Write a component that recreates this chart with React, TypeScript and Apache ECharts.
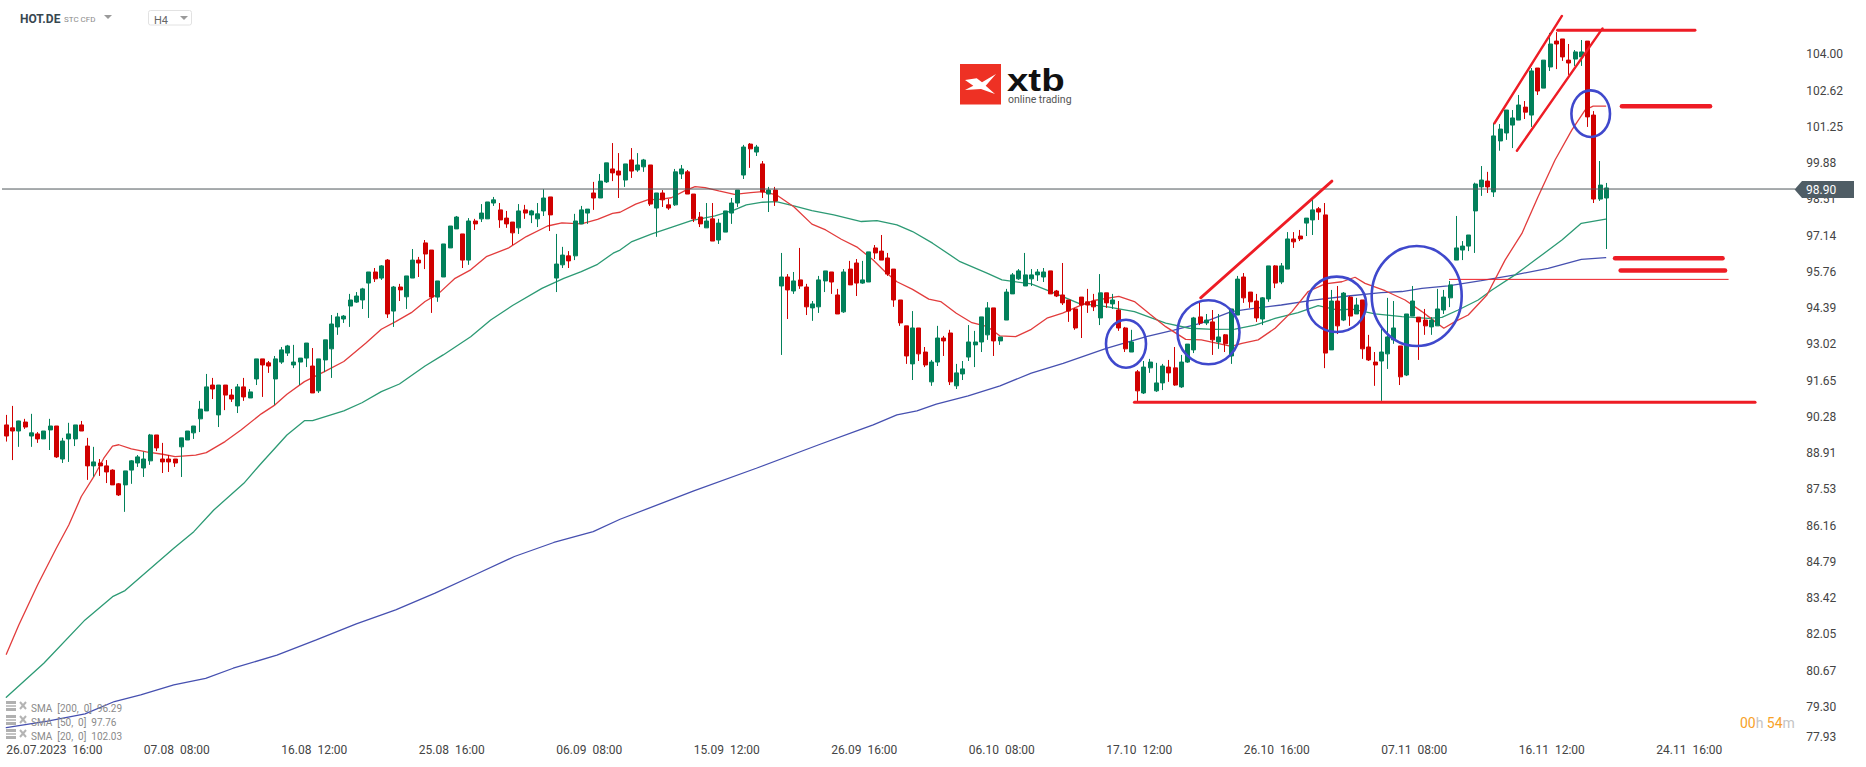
import React, { useEffect, useRef } from "react";
import * as echarts from "echarts";

// [open, close, low, high]
const candlesJulyAug = [
[89.97,89.55,89.34,90.35],[89.86,89.74,88.64,90.69],[89.74,90.12,89.14,90.13],[90.08,89.89,89.82,90.20],[89.55,89.67,89.14,90.39],[89.63,89.44,89.29,89.70],[89.44,89.74,89.44,89.74],[89.78,89.93,89.02,90.20],[89.93,88.76,88.72,89.93],[88.68,89.36,88.53,89.48],[89.44,89.63,88.57,90.05],[89.44,89.97,89.17,89.97],[89.97,89.74,89.74,90.12],[89.17,88.42,87.89,89.48],[88.42,88.57,88.01,89.14],[88.53,88.42,88.04,88.68],[88.42,88.19,87.77,88.64],[88.26,87.70,87.70,88.29],[87.74,87.32,87.28,87.77],[87.70,88.23,86.68,88.23],[88.26,88.61,87.74,88.64],[88.53,88.76,88.38,88.83],[88.34,88.68,88.00,88.95],[88.61,89.59,88.46,89.63],[89.59,89.10,88.98,89.59],[88.68,88.57,88.15,89.29],[88.68,88.57,88.19,88.83],[88.68,88.53,88.38,88.68],[89.14,89.48,88.00,89.48],[89.40,89.74,89.40,89.74],[89.67,89.93,89.44,89.93],[90.20,90.57,89.70,90.88],
];
const candlesAug = [
[90.50,91.41,90.50,91.90],[91.48,91.33,90.95,91.75],[90.35,91.48,89.89,91.48],[91.48,91.10,90.53,91.48],[91.10,90.95,90.84,91.33],[90.69,91.41,90.42,91.52],[91.41,91.03,90.88,91.75],[90.99,91.22,90.99,91.33],[91.71,92.47,91.48,92.47],[92.47,92.24,91.03,92.47],[92.32,92.20,91.94,92.39],[91.71,92.47,90.73,92.58],[92.35,92.81,92.28,92.92],[92.69,92.96,92.58,93.00],[92.24,92.35,92.12,93.00],[92.35,92.50,91.48,92.50],[92.50,93.07,92.16,93.07],[92.20,91.18,91.18,92.88],[91.26,92.47,91.18,92.47],[92.43,93.19,91.97,93.19],[92.85,93.79,91.75,94.13],[93.68,94.06,93.38,94.21],[93.98,94.09,93.83,94.13],[94.47,94.70,93.68,94.93],[94.62,94.85,94.59,95.00],[94.70,95.12,94.36,95.16],[95.34,95.76,94.02,95.76],[95.76,95.50,95.38,95.91],[95.53,95.99,95.46,96.02],[96.21,94.17,94.02,96.25],[94.28,95.19,93.68,95.23],[95.19,95.08,94.66,95.31],
];
const candlesAugSep = [
[94.82,95.61,94.36,95.61],[95.53,96.21,95.53,96.63],[96.21,96.10,95.57,96.33],[96.86,96.44,95.87,96.97],[96.59,94.81,94.21,96.59],[94.81,95.42,94.63,95.42],[95.57,96.82,95.57,96.82],[96.67,97.50,96.67,97.50],[97.39,97.84,97.39,97.88],[97.20,96.21,95.91,97.20],[96.21,97.69,96.03,97.80],[97.69,97.58,97.35,97.77],[97.77,97.99,97.65,98.33],[97.77,98.41,97.77,98.41],[98.37,98.49,98.26,98.60],[98.11,97.73,97.43,98.37],[97.80,97.58,97.43,98.07],[97.65,97.24,96.78,97.65],[97.43,98.07,97.20,98.33],[98.11,97.99,97.77,98.30],[97.92,98.07,97.61,98.11],[97.77,97.96,97.46,98.37],[98.07,98.56,97.88,98.89],[98.60,97.92,97.31,98.60],[95.53,96.06,95.00,97.20],[96.03,96.40,95.91,96.71],[96.37,96.18,95.91,96.55],[96.37,97.69,96.21,97.96],[97.58,98.11,97.58,98.26],[97.99,98.14,97.58,98.14],[98.75,98.56,98.11,99.17],[98.56,99.20,98.56,99.47],
];
const candlesSep = [
[99.17,99.89,99.13,99.89],[99.66,99.51,99.20,100.64],[99.58,99.43,98.56,100.26],[99.24,99.85,98.98,99.85],[100.00,99.58,99.32,100.45],[99.62,99.81,99.55,100.26],[99.74,100.00,99.55,100.04],[99.81,98.33,98.26,99.81],[98.18,98.75,97.09,98.75],[98.75,98.49,98.22,98.86],[98.30,98.18,98.11,98.52],[98.30,99.55,98.26,99.66],[99.47,99.66,99.28,99.81],[99.55,98.71,98.71,99.62],[98.71,97.77,97.65,98.71],[97.84,97.58,97.46,98.03],[97.43,97.69,97.43,98.37],[97.77,96.93,96.93,98.37],[96.97,97.61,96.82,97.77],[97.27,98.07,97.27,98.07],[97.99,98.37,97.58,98.56],[98.37,98.86,98.22,98.86],[99.43,100.49,99.28,100.57],[100.60,100.42,99.70,100.64],[100.30,100.49,100.15,100.57],[99.85,98.79,98.56,99.96],[98.71,98.86,98.03,98.98],[98.86,98.45,98.26,98.98],[95.23,95.57,92.62,96.48],[95.57,95.08,93.98,95.68],[95.04,95.42,94.93,95.76],[95.46,95.23,95.12,96.67],[95.19,94.44,94.13,95.31],
];
const candlesSepOct = [
[94.40,94.55,93.91,94.66],[94.44,95.46,94.21,95.61],[95.42,95.80,95.00,95.80],[95.76,95.38,94.93,95.76],[94.89,94.17,94.17,95.12],[94.25,95.76,94.21,95.87],[95.87,95.27,95.27,96.18],[96.10,95.34,94.85,96.25],[95.34,95.46,95.31,96.18],[95.38,96.52,95.38,96.52],[96.67,96.48,96.25,96.78],[96.55,96.21,96.21,97.16],[96.29,95.68,95.61,96.48],[95.87,94.70,94.44,95.87],[94.70,93.83,93.72,94.70],[93.72,92.58,92.28,93.72],[92.28,93.64,91.67,94.28],[93.64,92.66,92.39,93.64],[92.73,92.24,92.16,92.92],[91.60,92.35,91.45,92.43],[92.35,93.26,92.20,93.72],[93.26,93.15,92.58,93.34],[93.45,91.60,91.48,93.57],[91.45,91.94,91.33,92.28],[91.90,92.09,91.67,92.39],[92.54,93.11,92.39,93.75],[93.00,93.11,92.16,93.53],[93.11,94.06,92.73,94.06],[93.38,94.40,93.19,94.62],[94.40,93.15,92.58,94.40],[93.15,93.30,93.00,93.30],
];
const candlesOct = [
[93.94,95.00,93.94,95.12],[94.93,95.65,94.93,95.72],[95.50,95.80,95.46,95.87],[95.23,95.65,95.23,96.48],[95.50,95.65,95.23,95.87],[95.65,95.76,95.42,95.87],[95.57,95.76,95.38,95.91],[95.80,94.93,94.93,95.80],[95.04,94.85,94.81,95.08],[94.89,94.59,94.51,96.10],[94.70,94.28,93.87,94.70],[94.36,93.64,93.57,94.40],[94.81,94.51,93.26,94.81],[94.63,94.51,94.21,95.12],[94.66,94.44,94.28,94.93],[94.02,94.97,93.75,95.68],[94.97,94.59,94.40,94.97],[94.55,94.70,94.36,94.93],[94.32,93.64,93.53,94.66],[93.64,92.85,92.73,93.68],[92.73,93.11,92.73,93.57],[91.98,91.26,90.84,92.05],[91.18,92.16,91.14,92.39],[92.13,92.35,91.94,92.47],[91.26,91.56,91.22,92.32],[91.56,92.20,91.29,92.28],[92.16,91.94,91.60,92.43],[92.13,91.48,91.45,92.92],[91.41,92.35,91.37,92.62],[92.35,93.03,92.32,93.03],[92.81,94.02,92.69,94.06],[94.06,93.83,93.75,94.66],[93.83,93.94,93.75,94.17],[93.87,93.19,92.62,94.32],
];
const candlesOctNov = [
[93.11,93.30,92.85,94.17],[93.38,93.04,92.73,93.41],[92.58,94.36,92.28,94.36],[94.13,95.49,94.13,95.61],[95.57,94.78,94.59,95.72],[95.00,94.63,94.40,95.00],[94.66,94.02,93.87,94.93],[93.98,94.78,93.75,94.81],[94.74,95.99,94.63,95.99],[95.99,95.34,95.15,96.02],[95.38,95.99,95.30,96.10],[95.87,97.01,95.87,97.27],[97.01,96.90,96.67,97.27],[97.12,97.01,96.93,97.35],[97.61,97.80,97.12,97.80],[97.73,98.11,97.16,98.49],[98.15,98.03,97.73,98.22],[97.92,92.69,92.12,98.37],[92.81,94.66,92.81,95.08],[94.66,93.72,93.41,95.23],[93.94,94.96,93.90,95.00],[94.81,94.09,93.72,94.85],[94.17,94.51,94.17,94.78],[94.70,92.85,92.47,94.70],[92.92,92.43,92.39,93.38],[92.35,92.24,91.45,92.73],[92.39,92.73,90.88,93.60],[92.66,93.30,92.09,94.78],[93.19,93.64,93.04,94.66],[92.96,91.79,91.48,92.96],[91.86,94.17,91.82,94.17],
];
const candlesNov = [
[94.09,94.66,94.09,95.23],[94.05,93.87,92.43,94.05],[93.94,93.72,93.38,94.36],[93.68,93.94,93.38,94.05],[93.72,94.36,93.72,95.12],[94.32,94.81,94.17,95.08],[94.78,95.27,94.43,95.42],[96.21,96.67,96.21,97.88],[96.59,96.74,96.21,96.93],[96.74,97.16,96.55,97.16],[98.07,99.09,96.48,99.14],[98.98,99.24,98.64,99.77],[99.20,98.98,98.75,99.55],[98.79,100.91,98.60,101.40],[100.72,101.17,100.35,101.36],[101.02,101.89,100.76,101.89],[101.32,101.59,100.45,101.89],[101.51,102.08,101.51,102.46],[102.00,101.81,101.55,102.23],[101.70,103.37,101.25,103.48],[103.48,102.61,102.46,103.48],[102.72,103.78,102.72,103.78],[103.52,104.39,103.37,104.81],[104.50,104.39,103.44,104.84],[104.58,103.90,103.75,104.58],[103.78,103.67,103.22,104.39],[103.82,104.09,103.56,104.16],[103.90,104.09,103.56,104.54],[104.50,101.63,101.25,104.50],[101.70,98.52,98.37,101.85],[98.52,99.05,98.45,99.96],[98.56,98.94,96.63,99.13],
];

// [candle number, price]
const sma20 = [[0,81.29],[2,82.40],[5,83.91],[8,85.30],[10,86.18],[12,87.26],[14,88.01],[15.6,88.71],[17,89.17],[18,89.22],[20,89.06],[22.4,88.95],[25,88.86],[27,88.77],[30.3,88.83],[32,88.92],[35,89.34],[37.6,89.79],[40.8,90.39],[43,90.73],[44.9,91.13],[47.7,91.61],[50.9,91.99],[54,92.37],[57.5,93.06],[60,93.59],[62.3,93.88],[64.8,94.22],[67,94.64],[69.2,94.95],[71.8,95.52],[74.3,95.84],[76.8,96.34],[80.3,96.66],[83.2,97.10],[86.6,97.50],[88.9,97.62],[92,97.58],[94.6,97.75],[97,97.98],[98.2,98.02],[100.7,98.33],[102.6,98.49],[104.8,98.52],[106.4,98.57],[108.6,98.84],[110.2,98.99],[111.8,98.95],[114,98.83],[116.5,98.70],[119.1,98.76],[121,98.80],[123.2,98.68],[126,98.23],[128.9,97.57],[131.1,97.35],[133.6,97.00],[136.2,96.69],[138.7,96.21],[140.6,95.77],[142.5,95.39],[145,95.10],[147.6,94.73],[149.5,94.64],[152,94.20],[154.5,93.84],[157,93.69],[159,93.34],[161.5,93.31],[164,93.59],[166.5,94.01],[169,94.20],[171.6,94.47],[174,94.68],[178,94.84],[180.5,94.64],[183,94.16],[185.5,93.69],[188.7,93.21],[191.2,93.19],[193.8,93.06],[196,92.94],[197.7,93.06],[200.3,93.19],[203,93.63],[205.7,94.26],[208.3,95.02],[211,95.31],[213.7,95.39],[215.8,95.56],[217.4,95.33],[220.6,95.05],[223.8,94.70],[226.5,94.26],[228.6,93.88],[230,93.63],[231.8,93.88],[233.9,94.13],[236.9,94.89],[239.8,96.21],[242.5,97.22],[245.1,98.62],[247.8,100.00],[250.5,101.14],[252.6,101.89],[253.9,102.04],[255.9,102.04]];
const sma50 = [[0,79.66],[6,80.95],[12.6,82.59],[17,83.47],[19,83.70],[26.8,85.30],[30,85.93],[33.2,86.75],[38,87.76],[40.8,88.52],[44.9,89.59],[47.7,90.13],[49,90.13],[54,90.50],[56.9,90.81],[60,91.23],[62.9,91.52],[67,92.20],[69.9,92.62],[74.3,93.31],[77.5,93.94],[81,94.49],[85.7,95.14],[89.2,95.52],[92,95.77],[94.6,96.05],[97.1,96.47],[98.2,96.59],[100.1,96.91],[103.3,97.20],[106.4,97.45],[109.6,97.70],[113.4,97.88],[116.5,98.11],[118.4,98.30],[121,98.40],[123.2,98.42],[126,98.26],[128.9,98.08],[132.4,97.92],[136.8,97.67],[139.3,97.70],[142.5,97.54],[145,97.29],[148.2,96.85],[152.6,96.15],[157,95.71],[159.3,95.46],[164,95.31],[167.8,94.95],[171.6,94.57],[176,94.45],[180.5,94.26],[185.5,93.82],[189.3,93.63],[193.1,93.59],[196.6,93.60],[199.8,93.75],[203,94.00],[206.7,94.22],[209.9,94.49],[213.1,94.32],[215.3,94.35],[219,94.17],[223.3,94.07],[227.5,94.00],[229.7,94.04],[232.3,94.32],[235.5,94.70],[237.7,95.08],[241.4,95.65],[244.6,96.21],[248.9,96.97],[252,97.60],[255.9,97.76]];
const sma200 = [[0,78.51],[6.6,78.76],[12.6,79.03],[17.3,79.50],[21.5,79.75],[26.8,80.13],[31.9,80.38],[36.3,80.76],[43.3,81.26],[49.6,81.83],[56,82.44],[62.3,82.97],[68.6,83.60],[74.9,84.29],[81.3,84.99],[87.6,85.52],[93.9,85.93],[98.2,86.40],[110,87.47],[120,88.33],[130,89.22],[136.5,89.78],[138.7,89.97],[142.5,90.35],[145.7,90.50],[148.8,90.76],[153.9,91.07],[159,91.45],[164,91.93],[169.1,92.30],[176,92.87],[182.4,93.31],[186.8,93.56],[191.2,93.82],[196,94.26],[198.7,94.35],[204,94.51],[209.4,94.70],[214.7,94.85],[220,94.98],[223.3,95.02],[226.5,95.14],[230.7,95.23],[236,95.43],[241.4,95.65],[246.7,95.90],[252,96.24],[255.9,96.30]];

const lastPrice = 98.9;
const priceTicks = [77.93,79.30,80.67,82.05,83.42,84.79,86.16,87.53,88.91,90.28,91.65,93.02,94.39,95.76,97.14,98.51,99.88,101.25,102.62,104.00];
const timeTicks = ["26.07.2023  16:00","07.08  08:00","16.08  12:00","25.08  16:00","06.09  08:00","15.09  12:00","26.09  16:00","06.10  08:00","17.10  12:00","26.10  16:00","07.11  08:00","16.11  12:00","24.11  16:00"];
const legendRows = ["SMA  [200,  0]  96.29","SMA  [50,  0]  97.76","SMA  [20,  0]  102.03"];

// hand-drawn annotations: two ends as [candle number, price], and the pen width
const drawnLines: [number[][], number][] = [
  [[[238.1,101.39],[248.9,105.45]],2.4],
  [[[241.7,100.35],[255.4,104.98]],2.4],
  [[[248.2,104.91],[270.2,104.91]],2.8],
  [[[191.1,94.78],[212.1,99.20]],2.8],
  [[[180.5,90.83],[279.8,90.83]],3],
  [[[258.5,102.03],[272.6,102.03]],4.5],
  [[[257.4,96.28],[274.6,96.28]],4.5],
  [[[258.3,95.82],[275.0,95.82]],4.5],
  [[[230.9,95.48],[275.5,95.48]],1],
];
const circles = [
  [1126,343.7,20,24],
  [1208.5,332.3,31,32],
  [1336.7,304.3,29.5,27.7],
  [1416.7,296,45,50],
  [1590.7,113.7,19.3,23.3],
];

const UP = "#02805a";
const DOWN = "#d00000";
const FONT = "Roboto";

const lineSeries = (data: number[][], color: string, width = 1, opacity = 1) => ({
  type: "line", xAxisIndex: 1, yAxisIndex: 0, data, showSymbol: false, symbol: "none",
  silent: true, clip: false,
  lineStyle: { color, width, opacity, cap: "round" }, z: 3,
});

export default function App() {
  const ref = useRef<HTMLDivElement>(null);
  useEffect(() => {
    document.body.style.margin = "0";
    const chart = echarts.init(ref.current!, undefined, { renderer: "svg" });
    const candles = [...candlesJulyAug, ...candlesAug, ...candlesAugSep, ...candlesSep, ...candlesSepOct, ...candlesOct, ...candlesOctNov, ...candlesNov];
    const slots = 288;
    const categories = Array.from({ length: slots }, (_, i) => (i % 22 === 0 ? timeTicks[i / 22] ?? "" : ""));

    const icon = (y: number) => [
      { type: "rect", shape: { x: 6, y: y - 6, width: 10, height: 3 }, style: { fill: "#b0b0b0" }, z: 20 },
      { type: "rect", shape: { x: 6, y: y - 2, width: 10, height: 2 }, style: { fill: "#c4c4c4" }, z: 20 },
      { type: "rect", shape: { x: 6, y: y + 1, width: 10, height: 3 }, style: { fill: "#b0b0b0" }, z: 20 },
      { type: "line", shape: { x1: 20, y1: y - 5, x2: 26, y2: y + 2 }, style: { stroke: "#b4b4b4", lineWidth: 2 }, z: 20 },
      { type: "line", shape: { x1: 26, y1: y - 5, x2: 20, y2: y + 2 }, style: { stroke: "#b4b4b4", lineWidth: 2 }, z: 20 },
    ];

    chart.setOption({
      animation: false,
      backgroundColor: "#fff",
      textStyle: { fontFamily: FONT },
      grid: { left: 3.175, top: 0, width: 1800, height: 743, containLabel: false },
      xAxis: [
        {
          type: "category", data: categories, boundaryGap: true,
          axisLine: { show: false }, axisTick: { show: false }, splitLine: { show: false },
          axisLabel: {
            interval: (i: number) => i % 22 === 0, align: "left", margin: 1, hideOverlap: false,
            color: "#444", fontSize: 12, fontFamily: FONT, showMinLabel: true, showMaxLabel: false,
          },
        },
        { type: "value", min: -0.5, max: slots - 0.5, show: false },
      ],
      yAxis: {
        type: "value", position: "right", min: 77.93, max: 106.055, scale: true,
        axisLine: { show: false }, axisTick: { show: false }, splitLine: { show: false },
        axisLabel: {
          customValues: priceTicks, margin: 3, color: "#444", fontSize: 12, fontFamily: FONT,
          formatter: (v: number) => v.toFixed(2), verticalAlignMinLabel: "bottom",
        },
      },
      series: [
        lineSeries(sma200, "#4650b0", 1.3),
        lineSeries(sma50, "#2c9a74", 1.3),
        lineSeries(sma20, "#e23c3c", 1.3),
        {
          type: "candlestick", data: candles, xAxisIndex: 0, yAxisIndex: 0, barWidth: 4.4, silent: true, clip: false, z: 4,
          itemStyle: { color: UP, color0: DOWN, borderColor: UP, borderColor0: DOWN, borderWidth: 1 },
        },
        {
          ...lineSeries([[-0.8, lastPrice], [286.2, lastPrice]], "#4f575c", 1, 1), z: 5,
        },
        ...drawnLines.map(([pts, w]) => ({ ...lineSeries(pts, "#ee1c25", w, 1), z: 6 })),
      ],
      graphic: [
        ...circles.map(([cx, cy, rx, ry]) => ({
          type: "ellipse", shape: { cx, cy, rx, ry }, style: { fill: "none", stroke: "#3f48cc", lineWidth: 2.6 }, z: 10,
        })),
        // price tag
        { type: "polygon", shape: { points: [[1794.6, 189.5], [1802, 181], [1854, 181], [1854, 198], [1802, 198]] }, style: { fill: "#4f5d65" }, z: 12 },
        { type: "text", x: 1806, y: 190, style: { text: "98.90", fill: "#fff", font: `12px ${FONT}`, verticalAlign: "middle" }, z: 13 },
        // header
        { type: "text", x: 20, y: 19, style: { text: "HOT.DE", fill: "#37474f", font: `bold 12px ${FONT}`, verticalAlign: "middle" }, z: 13 },
        { type: "text", x: 64, y: 19, style: { text: "STC CFD", fill: "#8a8a8a", font: `8px ${FONT}`, verticalAlign: "middle" }, z: 13 },
        { type: "polygon", shape: { points: [[104, 15], [112, 15], [108, 19]] }, style: { fill: "#9a9a9a" }, z: 13 },
        { type: "rect", shape: { x: 148.5, y: 10.5, width: 43, height: 14.5, r: 2 }, style: { fill: "#fff", stroke: "#e2e2e2", lineWidth: 1 }, z: 13 },
        { type: "text", x: 154, y: 20, style: { text: "H4", fill: "#666", font: `11px ${FONT}`, verticalAlign: "middle" }, z: 14 },
        { type: "polygon", shape: { points: [[180, 16], [188, 16], [184, 20]] }, style: { fill: "#9a9a9a" }, z: 14 },
        // logo
        { type: "rect", shape: { x: 960, y: 64, width: 41, height: 40.5 }, style: { fill: "#ee3124" }, z: 13 },
        { type: "polygon", shape: { points: [[965, 80], [976.7, 78.3], [982, 82.3], [996, 74], [985.7, 85.7], [995, 94], [981, 89], [965, 90], [973.3, 85.7]] }, style: { fill: "#fff" }, z: 14 },
        { type: "text", x: 1007, y: 80, scaleX: 1.24, style: { text: "xtb", fill: "#111", font: `bold 31px "Liberation Sans"`, verticalAlign: "middle" }, z: 13 },
        { type: "text", x: 1008, y: 99.5, style: { text: "online trading", fill: "#555", font: `10.5px ${FONT}`, verticalAlign: "middle" }, z: 13 },
        // indicator legend
        ...legendRows.flatMap((t, k) => [
          ...icon(707 + k * 14),
          { type: "text", x: 31, y: 708 + k * 14, style: { text: t, fill: "#8a8a8a", font: `10px ${FONT}`, verticalAlign: "middle" }, z: 21 },
        ]),
        // countdown
        {
          type: "text", x: 1740, y: 722.5,
          style: {
            text: "{o|00}{g|h} {o|54}{g|m}", verticalAlign: "middle",
            rich: {
              o: { fill: "#f7a128", font: `14px ${FONT}` },
              g: { fill: "#c4c4c4", font: `14px ${FONT}` },
            },
          }, z: 13,
        },
      ],
    });
    return () => chart.dispose();
  }, []);
  return <div ref={ref} style={{ position: "absolute", left: 0, top: 0, width: 1866, height: 767 }} />;
}
